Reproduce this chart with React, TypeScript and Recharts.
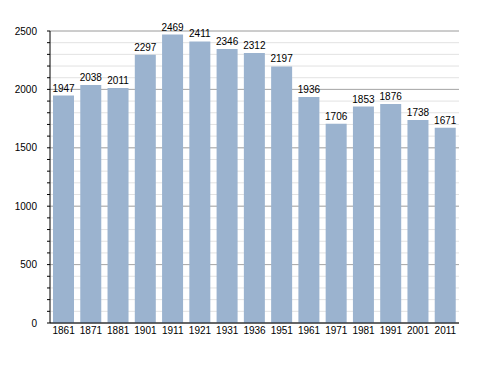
import React from 'react';
import { BarChart, Bar, XAxis, YAxis, CartesianGrid, LabelList } from 'recharts';

const years = ['1861', '1871', '1881', '1901', '1911', '1921', '1931', '1936', '1951', '1961', '1971', '1981', '1991', '2001', '2011'];
const population = [1947, 2038, 2011, 2297, 2469, 2411, 2346, 2312, 2197, 1936, 1706, 1853, 1876, 1738, 1671];
const minorTicks = Array.from({ length: 26 }, (_, i) => i * 100);
const majorTicks = [0, 500, 1000, 1500, 2000, 2500];

const data = years.map((y, i) => ({ year: y, value: population[i] }));

const font = '"Liberation Sans", Arial, sans-serif';

export default function App() {
  return (
    <div style={{ position: 'absolute', left: 0, top: 0, background: '#fff' }}>
      <BarChart
        width={488}
        height={373}
        data={data}
        margin={{ top: 31, right: 29, bottom: 30, left: 0 }}
        barCategoryGap={3}
      >
        <CartesianGrid
          vertical={false}
          horizontalValues={minorTicks}
          stroke="#e2e2e2"
          strokeWidth={1}
        />
        <CartesianGrid
          vertical={false}
          horizontalValues={majorTicks}
          stroke="#a8a8a8"
          strokeWidth={1}
        />
        <XAxis
          dataKey="year"
          tickLine={false}
          tickSize={0}
          tickMargin={4}
          height={20}
          axisLine={{ stroke: '#000', strokeWidth: 1 }}
          tick={{ fill: '#000', fontSize: 10, fontFamily: font }}
          interval={0}
        />
        <YAxis
          width={50}
          domain={[0, 2500]}
          ticks={minorTicks}
          interval={0}
          tickSize={3}
          tickMargin={10}
          tickLine={{ stroke: '#000' }}
          axisLine={{ stroke: '#000', strokeWidth: 1 }}
          tickFormatter={(v: number) => (v % 500 === 0 ? String(v) : '')}
          tick={{ fill: '#000', fontSize: 10, fontFamily: font }}
        />
        <Bar dataKey="value" fill="#9bb3cf" isAnimationActive={false}>
          <LabelList
            dataKey="value"
            position="top"
            offset={4}
            style={{ fill: '#000', fontSize: 10, fontFamily: font }}
          />
        </Bar>
      </BarChart>
    </div>
  );
}
